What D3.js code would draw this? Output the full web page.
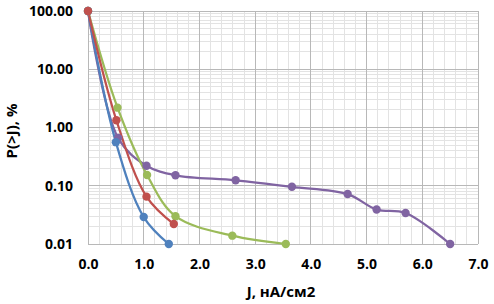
<!DOCTYPE html>
<html><head><meta charset="utf-8">
<script src="https://cdn.jsdelivr.net/npm/d3@7"></script>
<style>body{margin:0;background:#fff}svg{display:block}</style>
</head><body>
<script>
const xTicks = [0,1,2,3,4,5,6,7];
const yTicks = [0.01,0.1,1,10,100];
const blueX = [0, 0.50, 1.00, 1.45];
const blueY = [100, 0.56, 0.029, 0.01];
const redX = [0, 0.51, 1.05, 1.54];
const redY = [100, 1.33, 0.065, 0.022];
const greenX = [0, 0.53, 1.06, 1.57, 2.59, 3.55];
const greenY = [100, 2.19, 0.153, 0.030, 0.0139, 0.01];
const purpleX = [0, 0.54, 1.05, 1.57, 2.65, 3.66, 4.66, 5.18, 5.70, 6.50];
const purpleY = [100, 0.66, 0.221, 0.151, 0.124, 0.096, 0.072, 0.039, 0.034, 0.01];

const series = [
  {x: purpleX, y: purpleY, color: "#8064A2"},
  {x: greenX, y: greenY, color: "#9BBB59"},
  {x: blueX, y: blueY, color: "#4F81BD"},
  {x: redX, y: redY, color: "#C0504D"}
];

const W = 494, H = 304;
const FONT = "'Open Sans', 'Liberation Sans', sans-serif";
const svg = d3.select("body").append("svg").attr("width", W).attr("height", H);
const x = d3.scaleLinear().domain([0,7]).range([88, 478]);
const y = d3.scaleLog().domain([0.01,100]).range([244, 11]);

const g = svg.append("g");
const minorX = d3.range(0, 7.001, 0.2).filter(v => Math.abs(v - Math.round(v)) > 1e-6);
g.selectAll(".mx").data(minorX).enter().append("line")
  .attr("x1", d => x(d)).attr("x2", d => x(d)).attr("y1", y(100)).attr("y2", y(0.01))
  .attr("stroke", "#E3E3E3").attr("stroke-width", 1).attr("shape-rendering","crispEdges");
const minorY = [];
[0.01,0.1,1,10].forEach(b => { for (let k=2;k<=9;k++) minorY.push(b*k); });
g.selectAll(".my").data(minorY).enter().append("line")
  .attr("x1", x(0)).attr("x2", x(7)).attr("y1", d => y(d)).attr("y2", d => y(d))
  .attr("stroke", "#E3E3E3").attr("stroke-width", 1).attr("shape-rendering","crispEdges");
g.selectAll(".Mx").data(xTicks).enter().append("line")
  .attr("x1", d => x(d)).attr("x2", d => x(d)).attr("y1", y(100)).attr("y2", y(0.01))
  .attr("stroke", "#B8B8B8").attr("stroke-width", 1).attr("shape-rendering","crispEdges");
g.selectAll(".My").data(yTicks).enter().append("line")
  .attr("x1", x(0)).attr("x2", x(7)).attr("y1", d => y(d)).attr("y2", d => y(d))
  .attr("stroke", "#B8B8B8").attr("stroke-width", 1).attr("shape-rendering","crispEdges");

const xAxis = d3.axisBottom(x).tickValues(xTicks).tickFormat(d3.format(".1f")).tickSize(0).tickPadding(15);
const yAxis = d3.axisLeft(y).tickValues(yTicks).tickFormat(d3.format(".2f")).tickSize(0).tickPadding(15);
const gx = svg.append("g").attr("transform", `translate(0,${y(0.01)})`).call(xAxis);
const gy = svg.append("g").attr("transform", `translate(${x(0)},0)`).call(yAxis);
[gx, gy].forEach(a => {
  a.select(".domain").remove();
  a.selectAll("text").attr("font-family", FONT)
    .attr("font-weight", "bold").attr("font-size", "14px").attr("fill", "#000");
});

const line = d3.line().x(d => x(d[0])).y(d => y(d[1])).curve(d3.curveCatmullRom.alpha(0.5));
series.forEach(s => {
  const pts = s.x.map((v,i) => [v, s.y[i]]);
  svg.append("path").datum(pts).attr("d", line).attr("fill","none")
    .attr("stroke", s.color).attr("stroke-width", 2.25);
});
series.forEach(s => {
  const pts = s.x.map((v,i) => [v, s.y[i]]);
  svg.append("g").selectAll("circle").data(pts).enter().append("circle")
    .attr("cx", d => x(d[0])).attr("cy", d => y(d[1])).attr("r", 4.2)
    .attr("fill", s.color);
});

svg.append("text").attr("x", 281).attr("y", 297).attr("text-anchor","middle")
  .attr("font-family", FONT).attr("font-weight","bold")
  .attr("font-size","15px").text("J, нА/см2");
svg.append("text").attr("transform","translate(17,131) rotate(-90)").attr("text-anchor","middle")
  .attr("font-family", FONT).attr("font-weight","bold")
  .attr("font-size","15px").text("P(>J), %");
</script>
</body></html>
